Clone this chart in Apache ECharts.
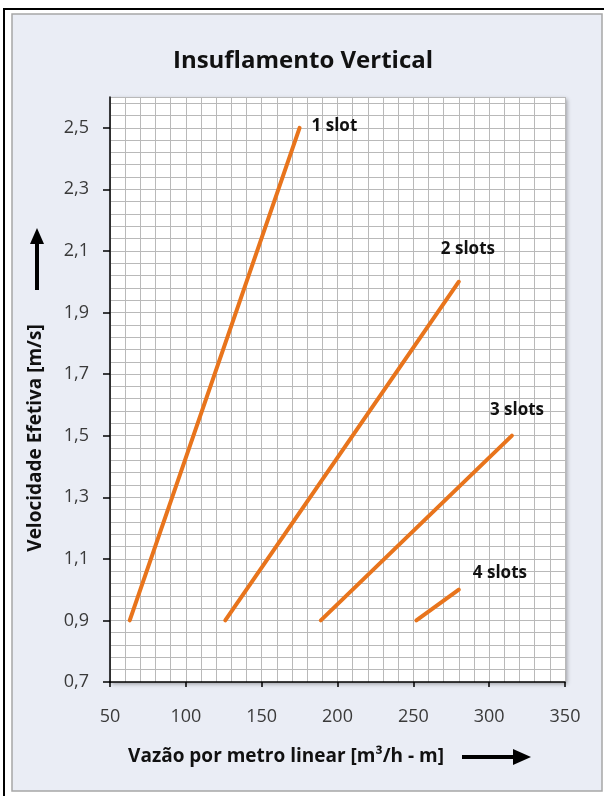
<!DOCTYPE html>
<html>
<head>
<meta charset="utf-8">
<script src="https://cdn.jsdelivr.net/npm/echarts@6/dist/echarts.min.js"></script>
<style>
html,body{margin:0;padding:0;background:#fff;}
#c{width:606px;height:796px;}
</style>
</head>
<body>
<div id="c"></div>
<script>
// ---- data ----
const seriesNames = ['1 slot', '2 slots', '3 slots', '4 slots'];
const flowStart = [63, 126, 189, 252];     // m3/h-m at 0,9 m/s
const flowEnd   = [175, 280, 315, 280];
const velStart  = [0.9, 0.9, 0.9, 0.9];
const velEnd    = [2.5, 2.0, 1.5, 1.0];
const xTicks = [50, 100, 150, 200, 250, 300, 350];
const yTicks = [0.7, 0.9, 1.1, 1.3, 1.5, 1.7, 1.9, 2.1, 2.3, 2.5];
const titleText = 'Insuflamento Vertical';
const xTitle = 'Vazão por metro linear [m³/h - m]';
const yTitle = 'Velocidade Efetiva [m/s]';

// label placement (pixel offsets from line end)
const labelOffsets = [[12, -2], [-18, -33], [-22, -26], [14, -16]];

const FONT = 'Open Sans';
const chart = echarts.init(document.getElementById('c'), null, {renderer: 'canvas'});

const series = seriesNames.map((n, i) => ({
  name: n,
  type: 'line',
  xAxisIndex: 0,
  yAxisIndex: 0,
  symbol: 'none',
  silent: true,
  z: 5,
  lineStyle: {color: '#e8741c', width: 4, cap: 'round'},
  data: [[flowStart[i], velStart[i]], [flowEnd[i], velEnd[i]]],
  endLabel: {
    show: true,
    formatter: n,
    distance: 0,
    align: 'left',
    verticalAlign: 'middle',
    offset: labelOffsets[i],
    color: '#111',
    fontFamily: FONT,
    fontWeight: 'bold',
    fontSize: 17
  }
}));

const option = {
  animation: false,
  backgroundColor: '#ffffff',
  title: {
    text: titleText,
    left: 'center',
    top: 44,
    textStyle: {fontFamily: FONT, fontWeight: 'bold', fontSize: 24, color: '#111'}
  },
  grid: {
    left: 110, top: 97, width: 455, height: 585,
    show: true, backgroundColor: '#ffffff', borderWidth: 0,
    shadowColor: 'rgba(0,0,0,0.35)', shadowBlur: 4, shadowOffsetX: 2, shadowOffsetY: 2
  },
  xAxis: [
    {
      type: 'value', min: 50, max: 350, interval: 50,
      axisLine: {show: true, onZero: false, lineStyle: {color: '#000', width: 1.5}},
      axisTick: {show: true, length: 5, lineStyle: {color: '#000', width: 1.5}},
      splitLine: {show: false},
      axisLabel: {margin: 26, fontFamily: FONT, fontSize: 18, color: '#3a3a3a'},
      name: xTitle,
      nameLocation: 'middle',
      nameGap: 65,
      nameTextStyle: {fontFamily: FONT, fontWeight: 'bold', fontSize: 19, color: '#111', padding: [0, 103, 0, 0]},
      z: 3
    },
    {
      type: 'value', min: 50, max: 350, interval: 10,
      axisLine: {show: false}, axisTick: {show: false}, axisLabel: {show: false},
      splitLine: {show: true, lineStyle: {color: '#b9b9b9', width: 1}},
      z: 1
    }
  ],
  yAxis: [
    {
      type: 'value', min: 0.7, max: 2.6, interval: 0.2,
      axisLine: {show: true, onZero: false, lineStyle: {color: '#000', width: 1.5}},
      axisTick: {show: true, length: 7, customValues: yTicks, lineStyle: {color: '#000', width: 1.5}},
      splitLine: {show: false},
      axisLabel: {
        margin: 21, customValues: yTicks, fontFamily: FONT, fontSize: 18, color: '#3a3a3a',
        formatter: v => v.toFixed(1).replace('.', ',')
      },
      name: yTitle,
      nameLocation: 'middle',
      nameRotate: 90,
      nameGap: 65,
      nameTextStyle: {fontFamily: FONT, fontWeight: 'bold', fontSize: 19, color: '#111', padding: [0, 97, 0, 0]},
      z: 3
    },
    {
      type: 'value', min: 0.7, max: 2.6, interval: 0.04,
      axisLine: {show: false}, axisTick: {show: false}, axisLabel: {show: false},
      splitLine: {show: true, lineStyle: {color: '#b9b9b9', width: 1}},
      z: 1
    }
  ],
  series: series,
  graphic: [
    // panel
    {type: 'rect', z: -10, silent: true, shape: {x: 12, y: 14, width: 590, height: 777},
     style: {fill: '#eaedf5', stroke: '#a6a6a6', lineWidth: 1.5}},
    // outer black frame (left + top)
    {type: 'polyline', z: -9, silent: true, shape: {points: [[4, 796], [4, 9], [604, 9]]},
     style: {stroke: '#000', lineWidth: 2, fill: null}},
    // y arrow
    {type: 'line', z: 10, silent: true, shape: {x1: 37, y1: 290, x2: 37, y2: 240},
     style: {stroke: '#000', lineWidth: 4}},
    {type: 'polygon', z: 10, silent: true, shape: {points: [[37, 228], [30, 244], [44, 244]]},
     style: {fill: '#000'}},
    // x arrow
    {type: 'line', z: 10, silent: true, shape: {x1: 462, y1: 757, x2: 518, y2: 757},
     style: {stroke: '#000', lineWidth: 4}},
    {type: 'polygon', z: 10, silent: true, shape: {points: [[531, 757], [513, 749], [513, 765]]},
     style: {fill: '#000'}}
  ]
};
chart.setOption(option);
</script>
</body>
</html>
